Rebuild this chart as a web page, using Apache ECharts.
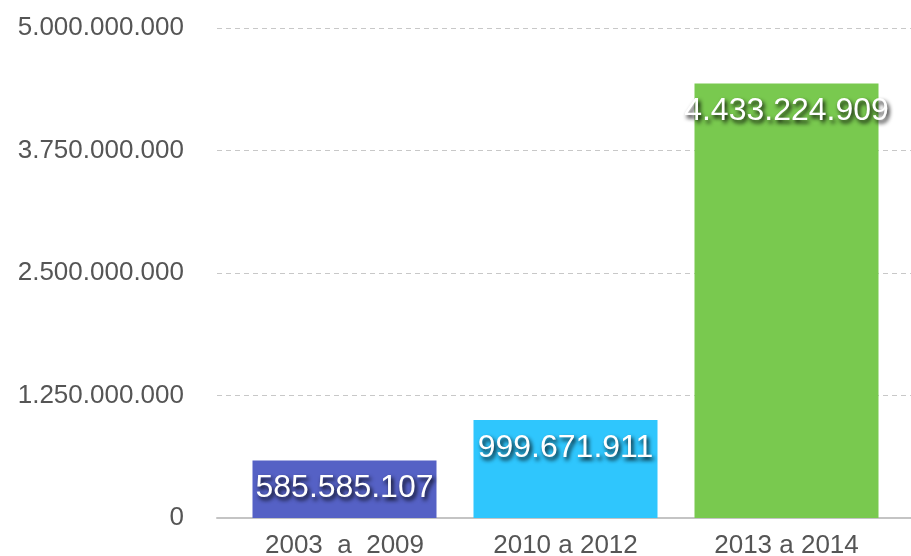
<!DOCTYPE html>
<html style="height: 100%">

<head>
    <meta charset="utf-8">
    <title>index</title>
    <style>
        html, body { margin: 0; padding: 0; background: #fff; }
        #container {
            width: 911px;
            height: 556px;
        }
    </style>
</head>

<body>
    <div id="container"></div>
</body>
<script src="https://cdn.jsdelivr.net/npm/echarts@6/dist/echarts.min.js"></script>
<script type="text/javascript">
    // datos
    var periodos = ["2003  a  2009", "2010 a 2012", "2013 a 2014"];
    var valores = [585585107, 999671911, 4433224909];
    var coresBarras = ["#5561c5", "#2fc6fd", "#79c94f"];

    var fonte = "'Liberation Sans', Arial, sans-serif";

    // separador de milhar com ponto
    function fmt(v) {
        return String(Math.round(v)).replace(/\B(?=(\d{3})+(?!\d))/g, ".");
    }

    var dom = document.getElementById("container");
    var myChart = echarts.init(dom);

    var option = {
        backgroundColor: "#fff",
        animation: false,
        grid: [{
                left: 217,
                right: 0,
                top: 28,
                bottom: 38,
                outerBoundsMode: "none"
            },
            {
                left: 234,
                right: 14,
                top: 28,
                bottom: 38,
                outerBoundsMode: "none"
            }
        ],
        xAxis: [{
                type: "category",
                gridIndex: 0,
                data: periodos,
                axisLine: {
                    lineStyle: { color: "#c4c4c4", width: 2 }
                },
                axisTick: { show: false },
                axisLabel: { show: false }
            },
            {
                type: "category",
                gridIndex: 1,
                data: periodos,
                axisLine: { show: false },
                axisTick: { show: false },
                axisLabel: {
                    color: "#555",
                    fontSize: 26,
                    fontFamily: fonte,
                    margin: 15
                }
            }
        ],
        yAxis: [{
                type: "value",
                gridIndex: 0,
                min: 0,
                max: 5000000000,
                interval: 1250000000,
                axisLine: { show: false },
                axisTick: { show: false },
                axisLabel: {
                    color: "#555",
                    fontSize: 26,
                    fontFamily: fonte,
                    margin: 33,
                    padding: [6, 0, 0, 0],
                    formatter: fmt
                },
                splitLine: {
                    lineStyle: { color: "#c8c8c8", type: [5, 4], width: 1 }
                }
            },
            {
                type: "value",
                gridIndex: 1,
                min: 0,
                max: 5000000000,
                interval: 1250000000,
                axisLine: { show: false },
                axisTick: { show: false },
                axisLabel: { show: false },
                splitLine: { show: false }
            }
        ],
        series: [{
            type: "bar",
            xAxisIndex: 1,
            yAxisIndex: 1,
            barWidth: 184,
            data: valores.map(function (v, i) {
                return { value: v, itemStyle: { color: coresBarras[i] } };
            }),
            label: {
                show: true,
                position: "insideTop",
                distance: 12,
                color: "#fff",
                fontSize: 32,
                fontFamily: fonte,
                textShadowColor: "rgba(0,0,0,0.95)",
                textShadowBlur: 4,
                textShadowOffsetX: 2,
                textShadowOffsetY: 3,
                formatter: function (p) { return fmt(p.value); }
            }
        }]
    };
    myChart.setOption(option, true);
</script>

</html>
